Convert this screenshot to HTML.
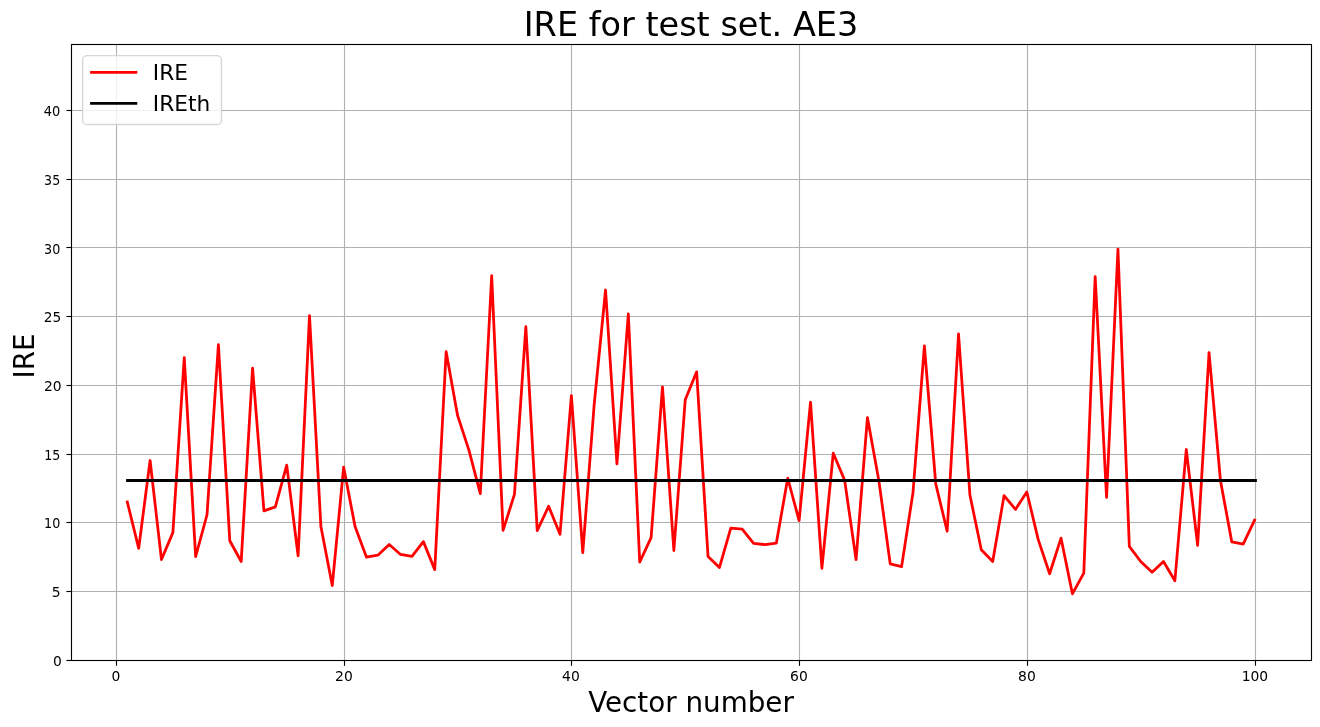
<!DOCTYPE html>
<html lang="en"><head><meta charset="utf-8"><title>IRE for test set. AE3</title>
<style>html,body{margin:0;padding:0;background:#fff;}svg{display:block;}text{font-family:'DejaVu Sans','Liberation Sans',sans-serif;fill:#000;}</style>
</head><body>
<svg width="1320" height="727" viewBox="0 0 1320 727">
<rect x="0" y="0" width="1320" height="727" fill="#ffffff"/>
<g stroke="#b0b0b0" stroke-width="1.11" fill="none"><line x1="116.50" y1="44.50" x2="116.50" y2="660.50"/><line x1="344.50" y1="44.50" x2="344.50" y2="660.50"/><line x1="571.50" y1="44.50" x2="571.50" y2="660.50"/><line x1="799.50" y1="44.50" x2="799.50" y2="660.50"/><line x1="1027.50" y1="44.50" x2="1027.50" y2="660.50"/><line x1="1255.50" y1="44.50" x2="1255.50" y2="660.50"/><line x1="71.50" y1="660.50" x2="1311.50" y2="660.50"/><line x1="71.50" y1="591.50" x2="1311.50" y2="591.50"/><line x1="71.50" y1="522.50" x2="1311.50" y2="522.50"/><line x1="71.50" y1="454.50" x2="1311.50" y2="454.50"/><line x1="71.50" y1="385.50" x2="1311.50" y2="385.50"/><line x1="71.50" y1="316.50" x2="1311.50" y2="316.50"/><line x1="71.50" y1="247.50" x2="1311.50" y2="247.50"/><line x1="71.50" y1="179.50" x2="1311.50" y2="179.50"/><line x1="71.50" y1="110.50" x2="1311.50" y2="110.50"/></g>
<g stroke="#000" stroke-width="1.11" fill="none"><line x1="116.50" y1="660.50" x2="116.50" y2="665.80"/><line x1="344.50" y1="660.50" x2="344.50" y2="665.80"/><line x1="571.50" y1="660.50" x2="571.50" y2="665.80"/><line x1="799.50" y1="660.50" x2="799.50" y2="665.80"/><line x1="1027.50" y1="660.50" x2="1027.50" y2="665.80"/><line x1="1255.50" y1="660.50" x2="1255.50" y2="665.80"/><line x1="66.40" y1="660.50" x2="71.50" y2="660.50"/><line x1="66.40" y1="591.50" x2="71.50" y2="591.50"/><line x1="66.40" y1="522.50" x2="71.50" y2="522.50"/><line x1="66.40" y1="454.50" x2="71.50" y2="454.50"/><line x1="66.40" y1="385.50" x2="71.50" y2="385.50"/><line x1="66.40" y1="316.50" x2="71.50" y2="316.50"/><line x1="66.40" y1="247.50" x2="71.50" y2="247.50"/><line x1="66.40" y1="179.50" x2="71.50" y2="179.50"/><line x1="66.40" y1="110.50" x2="71.50" y2="110.50"/></g>
<g font-size="13.89"><text x="115.90" y="680.7" text-anchor="middle">0</text><text x="343.90" y="680.7" text-anchor="middle">20</text><text x="570.90" y="680.7" text-anchor="middle">40</text><text x="798.90" y="680.7" text-anchor="middle">60</text><text x="1026.90" y="680.7" text-anchor="middle">80</text><text x="1254.90" y="680.7" text-anchor="middle">100</text><text transform="translate(61.80,665.80) scale(1.000,1)" text-anchor="end">0</text><text transform="translate(60.70,596.80) scale(1.000,1)" text-anchor="end">5</text><text transform="translate(60.36,527.80) scale(0.919,1)" text-anchor="end">10</text><text transform="translate(60.23,459.80) scale(0.910,1)" text-anchor="end">15</text><text transform="translate(61.60,390.80) scale(1.000,1)" text-anchor="end">20</text><text transform="translate(61.29,321.80) scale(0.988,1)" text-anchor="end">25</text><text transform="translate(60.36,253.80) scale(0.921,1)" text-anchor="end">30</text><text transform="translate(60.23,184.80) scale(0.913,1)" text-anchor="end">35</text><text transform="translate(60.37,115.80) scale(0.936,1)" text-anchor="end">40</text></g>
<polyline points="127.31,501.96 138.70,548.30 150.09,460.51 161.47,559.58 172.86,532.62 184.25,357.66 195.63,556.55 207.02,514.75 218.41,344.59 229.79,540.74 241.18,561.50 252.57,368.11 263.95,510.90 275.34,506.91 286.73,465.18 298.11,555.73 309.50,315.58 320.89,526.44 332.27,585.56 343.66,467.24 355.05,526.44 366.43,557.10 377.82,555.17 389.21,544.52 400.59,554.49 411.98,556.41 423.37,541.63 434.75,569.61 446.14,351.74 457.52,415.20 468.91,450.12 480.30,493.71 491.68,275.71 503.07,530.42 514.46,494.40 525.84,326.72 537.23,530.70 548.62,506.29 560.00,534.27 571.39,395.61 582.78,552.70 594.16,404.75 605.55,290.01 616.94,463.88 628.32,313.79 639.71,562.05 651.10,537.71 662.48,386.81 673.87,550.50 685.26,399.66 696.64,371.82 708.03,556.41 719.42,567.55 730.80,528.02 742.19,529.19 753.58,543.35 764.96,544.59 776.35,543.08 787.74,478.24 799.12,520.66 810.51,402.07 821.90,568.24 833.28,453.22 844.67,480.38 856.06,559.58 867.44,417.61 878.83,480.38 890.22,563.84 901.60,566.59 912.99,492.61 924.38,345.83 935.76,483.81 947.15,531.25 958.53,334.01 969.92,495.09 981.31,549.67 992.69,561.50 1004.08,495.57 1015.47,509.39 1026.85,491.99 1038.24,539.64 1049.63,573.74 1061.01,538.06 1072.40,593.81 1083.79,573.19 1095.17,276.53 1106.56,497.43 1117.95,249.10 1129.33,546.38 1140.72,561.50 1152.11,572.23 1163.49,561.43 1174.88,580.75 1186.27,449.51 1197.65,545.27 1209.04,352.57 1220.43,480.38 1231.81,541.98 1243.20,544.04 1254.59,520.11" fill="none" stroke="#ff0000" stroke-width="2.78" stroke-linejoin="round" stroke-linecap="square"/>
<line x1="127.50" y1="480.50" x2="1255.50" y2="480.50" stroke="#000" stroke-width="2.78" stroke-linecap="square"/>
<rect x="71.50" y="44.50" width="1240.00" height="616.00" fill="none" stroke="#000" stroke-width="1.11"/>
<text x="691.0" y="36.0" font-size="33.5" text-anchor="middle">IRE for test set. AE3</text>
<text x="691.0" y="711.7" font-size="27.78" text-anchor="middle">Vector number</text>
<text transform="translate(34.0,355.9) rotate(-90)" font-size="27.78" text-anchor="middle">IRE</text>
<rect x="82.6" y="55.6" width="138.9" height="68.95" rx="4.4" ry="4.4" fill="#ffffff" fill-opacity="0.8" stroke="#cccccc" stroke-opacity="0.8" stroke-width="1.39"/>
<line x1="91.5" y1="72.4" x2="135.9" y2="72.4" stroke="#ff0000" stroke-width="2.78" stroke-linecap="square"/>
<line x1="91.5" y1="103.4" x2="135.9" y2="103.4" stroke="#000" stroke-width="2.78" stroke-linecap="square"/>
<text x="152.8" y="80.0" font-size="21.7">IRE</text>
<text x="152.8" y="110.9" font-size="21.7">IREth</text>
</svg></body></html>
